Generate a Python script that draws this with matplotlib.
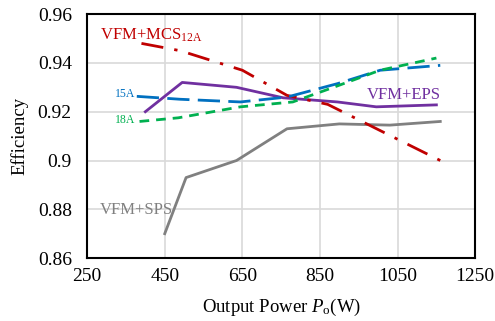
import matplotlib.pyplot as plt

plt.rcParams['font.family'] = 'Liberation Serif'
plt.rcParams['mathtext.fontset'] = 'custom'
plt.rcParams['mathtext.rm'] = 'Liberation Serif'
plt.rcParams['mathtext.it'] = 'Liberation Serif:italic'

# data
p_sps = [450, 505, 635, 765, 900, 1030, 1160]
eff_sps = [0.870, 0.893, 0.900, 0.913, 0.915, 0.9145, 0.916]

p_eps = [400, 495, 635, 755, 895, 995, 1150]
eff_eps = [0.920, 0.932, 0.930, 0.9257, 0.924, 0.922, 0.9228]

p_mcs12 = [390, 490, 650, 765, 870, 1040, 1160]
eff_mcs12 = [0.948, 0.945, 0.937, 0.9267, 0.923, 0.9095, 0.900]

p_mcs15 = [378, 490, 645, 765, 895, 1005, 1160]
eff_mcs15 = [0.9263, 0.9251, 0.924, 0.926, 0.9315, 0.937, 0.939]

p_mcs18 = [385, 485, 645, 780, 885, 1005, 1150]
eff_mcs18 = [0.916, 0.9175, 0.922, 0.924, 0.930, 0.937, 0.942]

fig = plt.figure(figsize=(4.95, 3.21), dpi=100)
ax = fig.add_axes([0.176, 0.196, 0.784, 0.760])

ax.plot(p_sps, eff_sps, color='#808080', lw=2)
ax.plot(p_eps, eff_eps, color='#7030A0', lw=2)
ax.plot(p_mcs12, eff_mcs12, color='#C00000', lw=2, dashes=(8, 4, 1.2, 4))
ax.plot(p_mcs15, eff_mcs15, color='#0070C0', lw=2, dashes=(8, 3))
ax.plot(p_mcs18, eff_mcs18, color='#00B050', lw=2, dashes=(3.5, 2.5))

ax.text(283, 0.9514, 'VFM+MCS$_{\\mathregular{12A}}$', color='#C00000', fontsize=12, va='center')
ax.text(970, 0.9267, 'VFM+EPS', color='#7030A0', fontsize=12, va='center')
ax.text(283, 0.8797, 'VFM+SPS', color='#808080', fontsize=12, va='center')
ax.text(322, 0.9271, '15A', color='#0070C0', fontsize=8.5, va='center')
ax.text(323, 0.9164, '18A', color='#00B050', fontsize=8.5, va='center')

ax.set_xlim(250, 1250)
ax.set_ylim(0.86, 0.96)
ax.set_xticks([250, 450, 650, 850, 1050, 1250])
ax.set_yticks([0.86, 0.88, 0.9, 0.92, 0.94, 0.96])
ax.set_yticklabels(['0.86', '0.88', '0.9', '0.92', '0.94', '0.96'])
ax.grid(True, color='#d9d9d9', lw=1.2)
ax.set_axisbelow(True)
ax.tick_params(length=0, labelsize=14)
ax.tick_params(axis='y', pad=11)
ax.tick_params(axis='x', pad=7)
for s in ax.spines.values():
    s.set_linewidth(1.5)
    s.set_color('black')

ax.set_xlabel('Output Power $P_{\\mathregular{o}}$(W)', fontsize=13.5, labelpad=9)
ax.set_ylabel('Efficiency', fontsize=13.5, labelpad=7)

fig.savefig('out.png', dpi=100)
